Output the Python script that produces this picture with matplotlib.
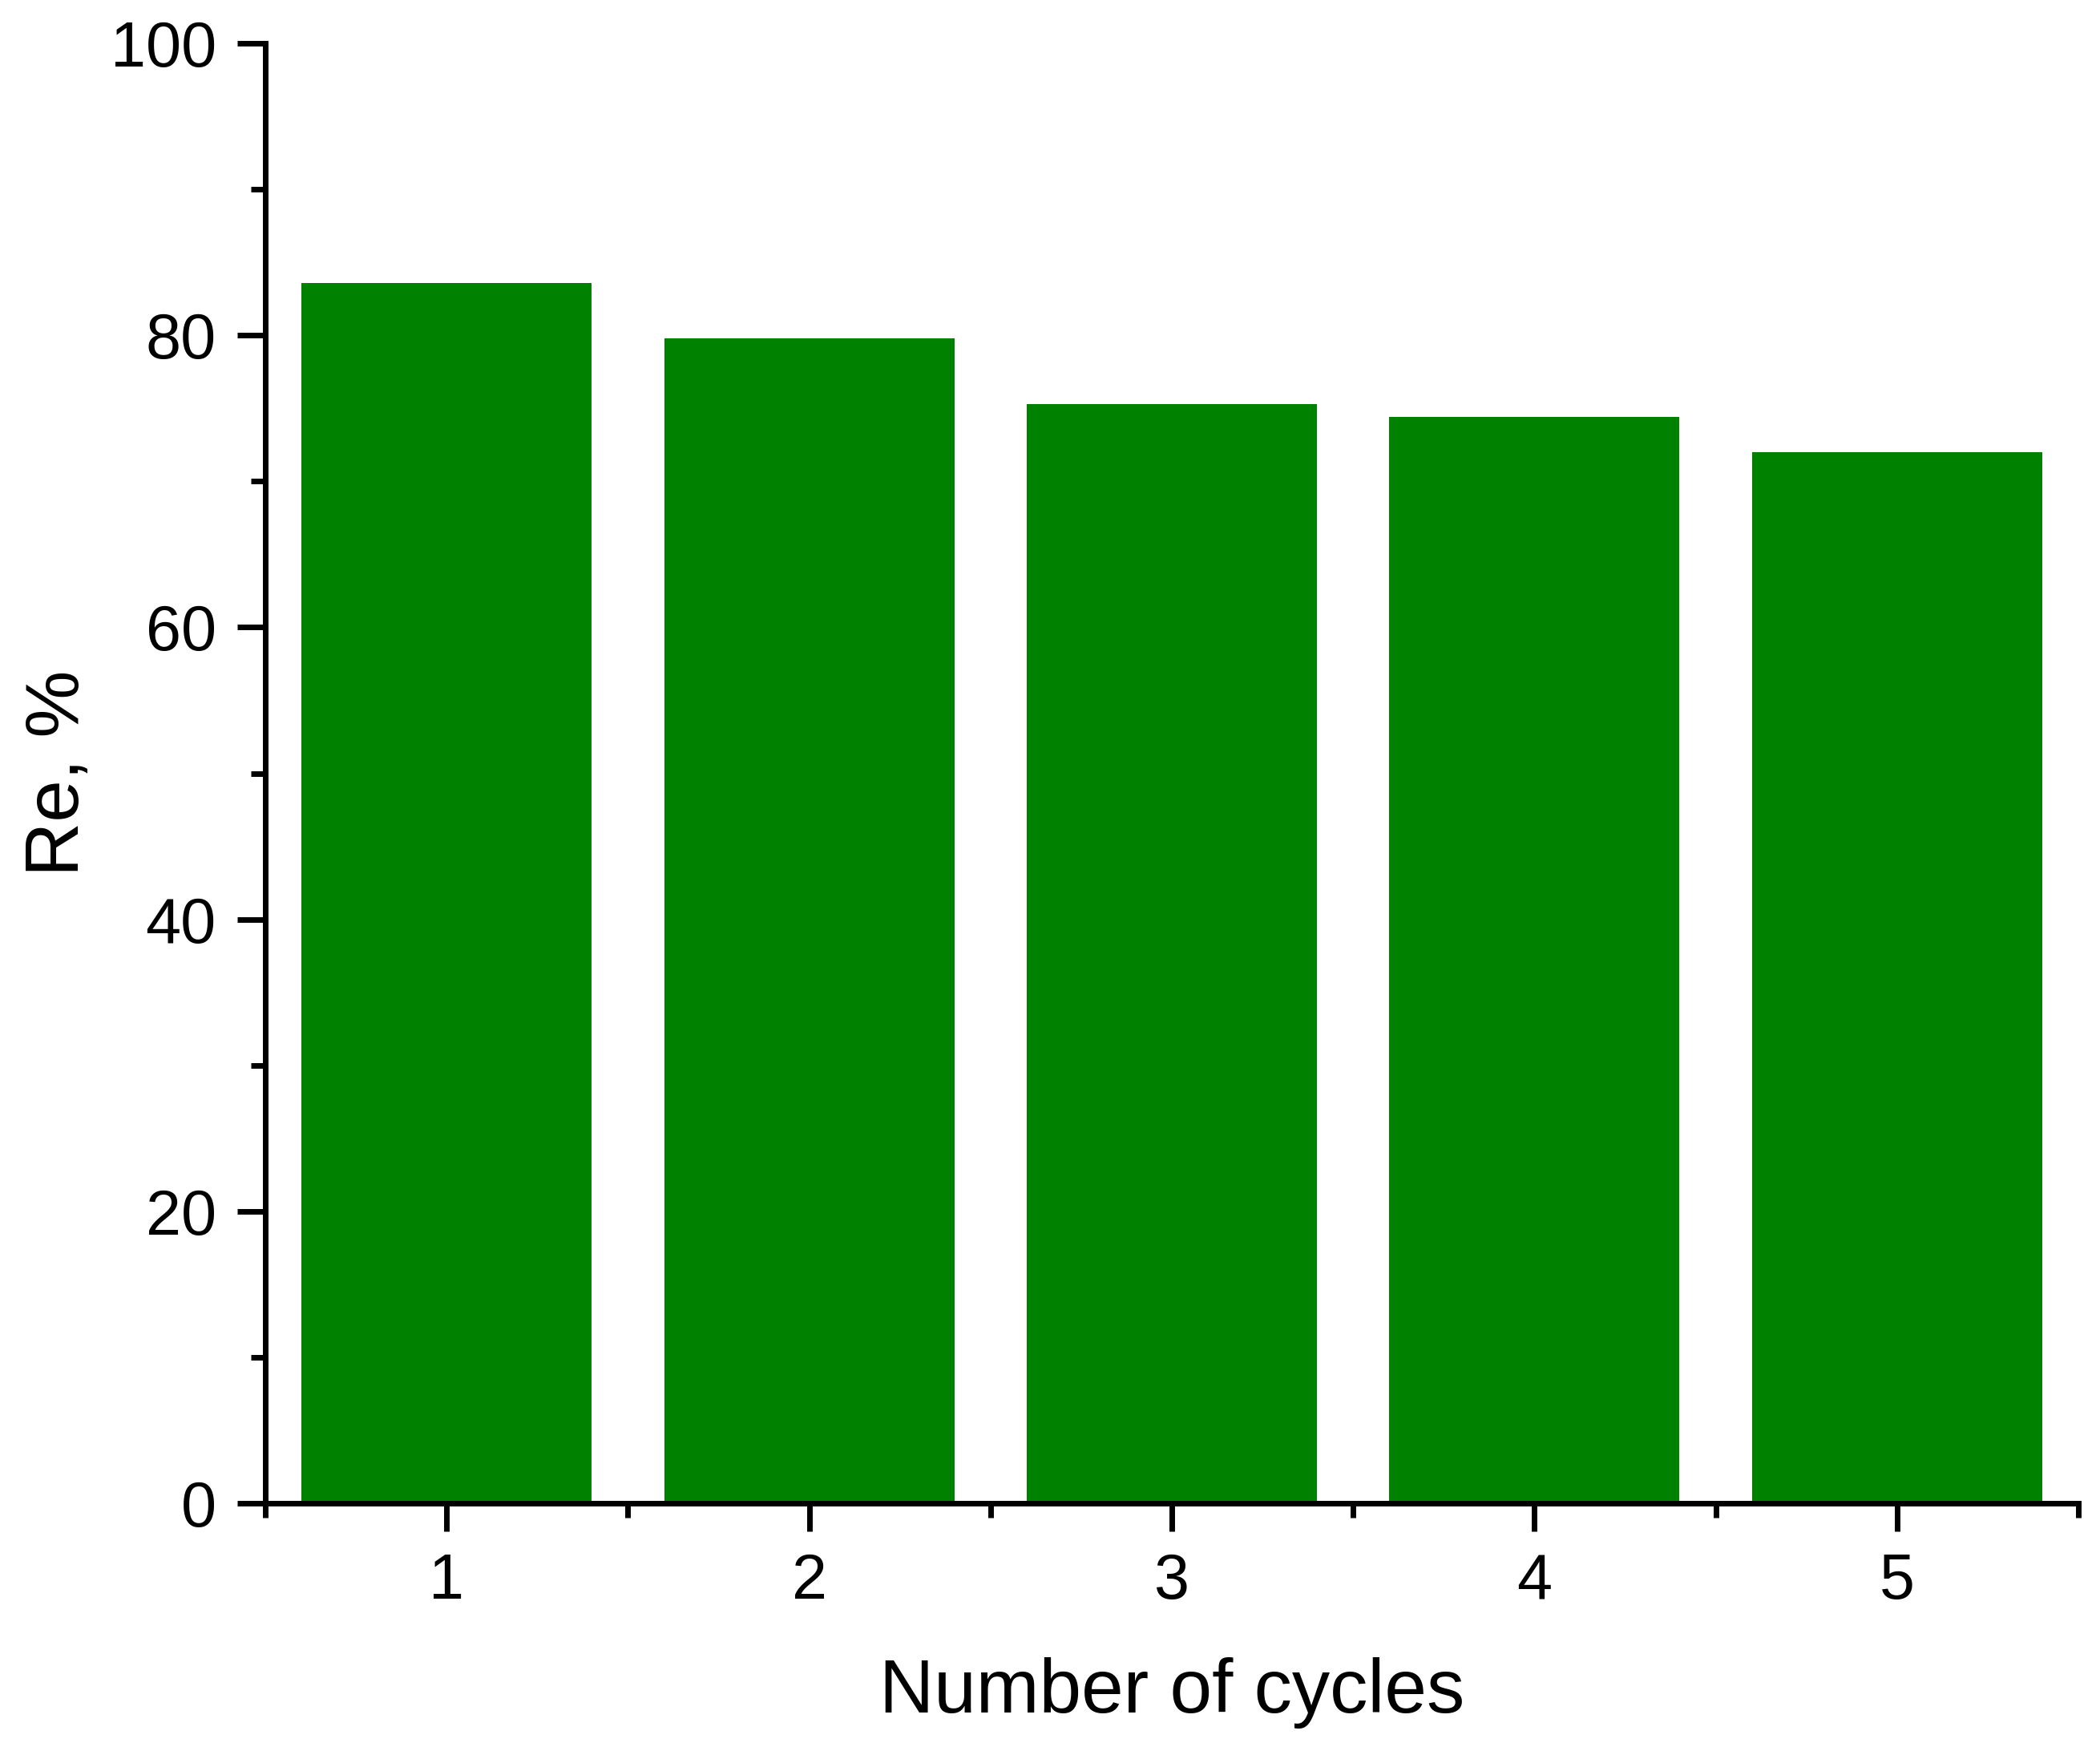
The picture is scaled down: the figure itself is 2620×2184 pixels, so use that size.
import matplotlib
matplotlib.use("Agg")
import matplotlib.pyplot as plt
from matplotlib.ticker import MultipleLocator, FixedLocator

# recycling data
cycles = [1, 2, 3, 4, 5]
re_values = [83.6, 79.8, 75.3, 74.4, 72.0]

plt.rcParams['font.family'] = ['Liberation Sans', 'DejaVu Sans']

fig = plt.figure(figsize=(26.2, 21.84), dpi=100)
ax = fig.add_axes([0.1263, 0.1415, 0.8634, 0.8337])

ax.bar(cycles, re_values, width=0.8, color='#008200', zorder=1)

ax.set_xlim(0.5, 5.5)
ax.set_ylim(0, 100)

ax.xaxis.set_major_locator(FixedLocator(cycles))
ax.xaxis.set_minor_locator(MultipleLocator(1, offset=0.5))
ax.yaxis.set_major_locator(MultipleLocator(20))
ax.yaxis.set_minor_locator(MultipleLocator(10))

for side in ['top', 'right']:
    ax.spines[side].set_visible(False)
for side in ['left', 'bottom']:
    ax.spines[side].set_linewidth(5)
    ax.spines[side].set_zorder(3)

ax.tick_params(which='major', direction='out', length=25, width=5, labelsize=57, pad=19)
ax.tick_params(which='minor', direction='out', length=13, width=5)

ax.set_xlabel("Number of cycles", fontsize=68, labelpad=40)
ax.set_ylabel("Re, %", fontsize=68, labelpad=14)

fig.savefig("out.png", dpi=100)
